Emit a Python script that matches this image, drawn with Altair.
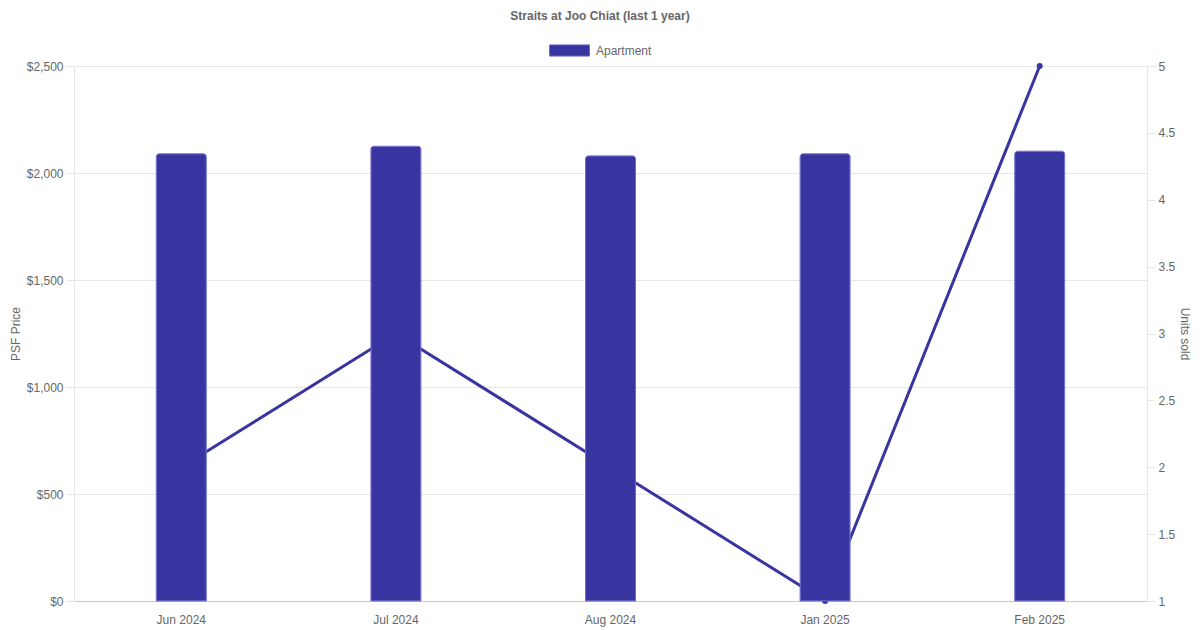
import pandas as pd
import altair as alt

# --- data ---
months = ["Jun 2024", "Jul 2024", "Aug 2024", "Jan 2025", "Feb 2025"]
psf_price = [2090, 2125, 2080, 2090, 2102]
units_sold = [2, 3, 2, 1, 5]
series_name = "Apartment"

df = pd.DataFrame({
    "Month": months,
    "PSF": psf_price,
    "Units": units_sold,
    "Type": [series_name] * len(months),
})

BAR = "#3935A0"
BAR_EDGE = "#6E6ACB"
TXT = "#666666"
GRID = "#E6E6E6"
FONT = "Liberation Sans"

x_enc = alt.X(
    "Month:N",
    sort=months,
    title=None,
    scale=alt.Scale(paddingInner=0, paddingOuter=0),
    axis=alt.Axis(labelAngle=0, ticks=False, tickSize=0, labelPadding=13,
                  domainColor="#C8C8C8", grid=False),
)

line = alt.Chart(df).mark_line(
    color=BAR, strokeWidth=3,
    point=alt.OverlayMarkDef(color=BAR, size=36, filled=True, opacity=1),
).encode(
    x=x_enc,
    y=alt.Y("Units:Q", title="Units sold",
            scale=alt.Scale(domain=[1, 5], nice=False, zero=False),
            axis=alt.Axis(orient="right", values=[1, 1.5, 2, 2.5, 3, 3.5, 4, 4.5, 5],
                          format="~g", grid=False, tickSize=8, labelPadding=3,
                          titleAngle=90, titlePadding=3)),
)

bars = alt.Chart(df).mark_bar(
    size=50, cornerRadiusTopLeft=3, cornerRadiusTopRight=3,
    stroke=BAR_EDGE, strokeWidth=1,
).encode(
    x=x_enc,
    y=alt.Y("PSF:Q", title="PSF Price",
            scale=alt.Scale(domain=[0, 2500], nice=False),
            axis=alt.Axis(values=[0, 500, 1000, 1500, 2000, 2500], format="$,.0f",
                          grid=True, tickSize=8, labelPadding=3, titlePadding=4)),
    color=alt.Color("Type:N",
                    scale=alt.Scale(domain=[series_name], range=[BAR]),
                    legend=alt.Legend(
                        title=None, orient="none", legendX=475, legendY=-36,
                        symbolType="M-1,-0.28L1,-0.28L1,0.28L-1,0.28Z",
                        symbolSize=1600, symbolStrokeColor=BAR_EDGE,
                        symbolStrokeWidth=1, labelOffset=6)),
)

chart = alt.layer(line, bars).resolve_scale(y="independent").properties(
    width=1073,
    height=535,
    autosize=alt.AutoSizeParams(type="none"),
    padding={"left": 66, "top": 58, "right": 45, "bottom": 30},
    title=alt.Title("Straits at Joo Chiat (last 1 year)", anchor="middle", frame="bounds",
                    fontSize=12, fontWeight="bold", color=TXT, font=FONT, offset=7),
).configure_view(
    stroke=None
).configure_axis(
    labelFont=FONT, titleFont=FONT, labelFontSize=12, titleFontSize=12,
    labelColor=TXT, titleColor=TXT, titleFontWeight="normal",
    gridColor=GRID, domainColor=GRID, tickColor=GRID,
).configure_legend(
    labelFont=FONT, labelFontSize=12, labelColor=TXT,
)

chart.save("out.html", embed_options={"renderer": "svg", "actions": False})
